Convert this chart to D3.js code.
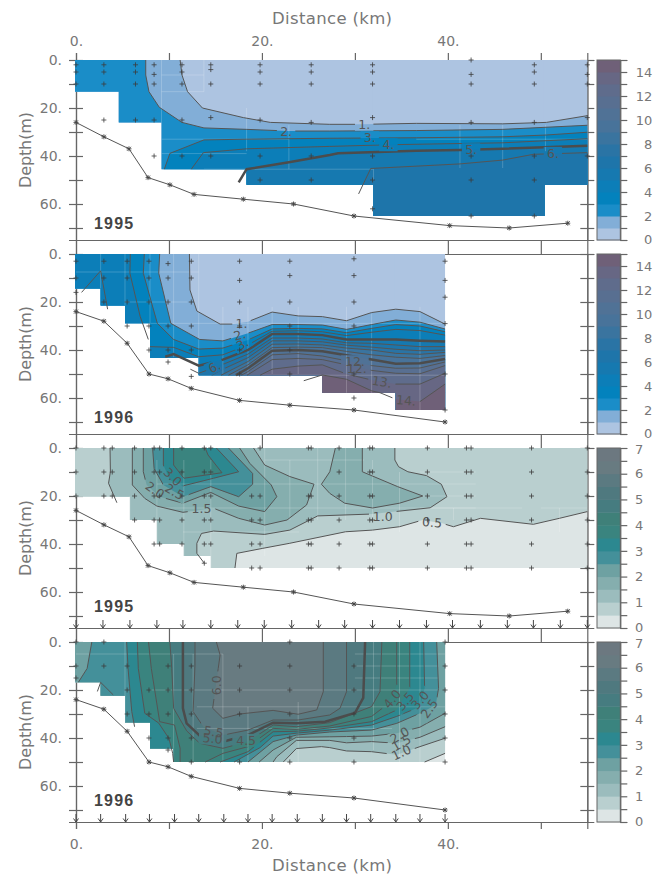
<!DOCTYPE html>
<html>
<head>
<meta charset="utf-8">
<script src="https://cdn.jsdelivr.net/npm/d3@7"></script>
<style>
  body { margin: 0; background: #fff; }
  text { font-family: "DejaVu Sans", sans-serif; fill: #777; }
</style>
</head>
<body>
<script>
// colour steps, lowest band first
const bluesRamp = ["#adc4e1","#82aed7","#1a8dc8","#0382bd","#0c7eb8","#1679b0","#1e75aa","#2a74a5","#3a749f","#48739a","#507296","#586f91","#5f6c8c","#676784","#6f6078"];
const tealsRamp = ["#dde5e5","#b9cfcf","#9bbcbd","#85aeae","#6ea1a2","#44909a","#2c8890","#3a847f","#3f8079","#467c80","#4f797f","#5b7a81","#687b81","#6c7880"];

// bottom profile, km / m
const bottomKm95 = [0,3,5.7,7.75,10.1,12.7,18,23.4,29.9,40.2,46.6,52.9];
const bottomM95 = [26,32,37,49,52,56,58,60,65,69,70,68];
const bottomKm96 = [0,3,5.5,7.85,9.9,12.4,17.6,23,29.9,39.7];
const bottomM96 = [24,28,37.2,50,52,56,61,63,65,70];

// sampled area, one step per column: right edge km, deepest m
const colKmA = [4.6,9.2,18.35,32,50.4,55];
const colMA = [13.2,26,45.5,52,65,52];
const colKmB = [2.65,5.27,7.96,13.2,26.5,34.4,39.7];
const colMB = [14.4,21.5,28.9,43.3,50.5,57.8,65];
const colKmC = [5.8,8.7,11.6,14.5,55];
const colMC = [20.3,30,40,45,50];
const colKmD = [2.65,5.27,7.96,10.5,39.7];
const colMD = [16.8,22.4,33.5,44.4,50];

// sample depths per station, km then depths
const castsA = [[0,[2,5,10]],[3,[2,5,10,25]],[6.4,[2,5,10,25]],[8.4,[2,6,10,25,40]],[11.4,[2,5,10,25,40]],[14.5,[2,4,10,24,40]],[19.8,[2,5,10,25,40,50]],[25.3,[2,5,10,26,40,50]],[31.9,[2,5,10,24,40,50,62]],[42.5,[0,6,10,26,40,50,65]],[49.3,[2,5,10,26,40,50,65]],[55,[2,6,10,24,40]]];
const castsB = [[0,[3,10,16]],[3,[3,10,20]],[5.5,[3,10,20,30]],[7.85,[3,10,20,30,40]],[9.9,[4,10,20,30,40,45]],[12.4,[3,10,20,30,40,51]],[17.6,[3,11,20,30,40,50]],[23,[3,9,20,30,40,50]],[29.9,[2,9,20,30,50,60]],[39.7,[3,11,18,29,50,65]]];
const castsC = [[0,[0,10,20]],[3,[0,10,20]],[3.9,[0,10,20]],[6.3,[0,10,20,30]],[8.4,[0,10,20,30,40]],[9,[0,10,20,30,40]],[11.4,[0,10,20,30,40]],[13.8,[0,10,20,30,40,48]],[14.5,[0,10,20,30,40]],[18.9,[20,30,40,50]],[19.8,[0,20,30,40,50]],[25,[0,20,30,40,50]],[25.3,[0,20,30,40,50]],[28.3,[0,10,20,30,40,50]],[31.6,[0,10,20,30,40,50]],[31.9,[0,10,20,30,40,50]],[37.8,[0,10,20,30,40,50]],[42,[0,10,20,30,40,50]],[42.5,[0,10,20,30,40,50]],[49,[0,10,20,30,40,50]],[55,[0,10,20,30,40,50]]];
const castsD = [[0,[0,10,15]],[3,[0,10]],[5.5,[10,20,30]],[7.85,[20,30,40]],[9.9,[10,20,30,40,45]],[12.4,[10,20,30,40,50]],[17.6,[10,20,30,50]],[23,[0,10,20,30,40,50]],[29.9,[10,20,30,40,50]],[39.7,[0,10,20,30,40,50]]];

// surface arrows along the lower axis
const arrowsKm95 = [0,2.9,5.8,8.7,11.5,14.5,17.4,20.25,23.2,26.1,28.9,31.9,34.8,37.7,40.5,43.5,46.4,49.2,52.1,55];
const arrowsKm96 = [0,2.65,5.34,7.9,10.6,13.2,15.9,18.5,21.1,23.8,26.5,29.1,31.7,34.4,37,39.7];

// contour lines, [km, m]. null lifts the pen. shut = extra corners for the fill only
const isoA = [
  {v:1, pts:[[11.2,0],[11.4,6.25],[12,13.2],[13.6,20],[18,24],[20.9,26],[27.3,26.8],[30.9,26.8],[36.6,26.4],[45.9,26.6],[50.6,26],[55,23.2]], shut:[[60,99],[-2,99],[-2,-2]]},
  {v:2, pts:[[7.5,0],[7.5,6.25],[7.85,13.2],[8.96,19.7],[11.4,26],[13.76,28.3],[18.35,28.9],[22.9,29.6],[27.3,29.6],[36.6,29.4],[45.9,28.9],[55,27.2]], shut:[[60,99],[-2,99],[-2,-2]]},
  {v:3, pts:[[9.5,45.5],[10.1,38.9],[13.76,33.3],[18.35,33],[27.3,32.6],[36.6,32.4],[45.9,32],[50.6,31.25],[55,30.1]], shut:[[60,99],[9.5,99]]},
  {v:4, pts:[[12.4,45.5],[13.7,38.6],[18.35,37],[27.3,36],[33.8,35.3],[45.9,34.5],[55,32.8]], shut:[[60,99],[12.4,99]]},
  {v:5, pts:[[17.5,51],[18.35,45.5],[22.9,42.6],[27.3,39.6],[28.2,38.9],[36.6,37.8],[41.3,37.5],[45.9,37],[55,35.7]], shut:[[60,99],[17.5,99]]},
  {v:6, pts:[[30.4,55.8],[31.7,45.2],[41.3,43.3],[45.9,41.7],[49.2,39.3],[55,38.6]], shut:[[60,99],[30.4,99]]}
];
const isoB = [
  {v:1, pts:[[12.2,0],[12.26,15],[13,23.75],[15.5,29.2],[16.9,29.2],[18.5,28.2],[21.1,24.2],[23.9,25.8],[26.5,26.1],[29.1,27.8],[31.8,24.4],[34.4,23],[37,24],[39.7,29.2]], shut:[[60,99],[-2,99],[-2,-2]]},
  {v:2, pts:[[9,0],[8.9,8],[10.2,28.9],[13.3,35.6],[15.8,36.2],[18.5,33],[21.1,29.4],[23.9,29.4],[26.5,29.6],[29.1,31.4],[31.8,29.4],[34.4,27.5],[37,28.4],[39.7,31.25]], shut:[[60,99],[-2,99],[-2,-2]]},
  {v:3, pts:[[7.35,0],[7.24,8],[8.75,28.9],[10.5,35.6],[13.2,39.6],[15.8,39.2],[18.5,35.8],[21.1,31.2],[23.9,31],[26.5,31.2],[29.1,32.8],[31.8,31],[34.4,29.4],[37,30],[39.7,32.4]], shut:[[60,99],[-2,99],[-2,-2]]},
  {v:4, pts:[[5.84,0],[5.8,8],[6.9,26],[7.78,35.6],null,[7.96,38.6],[10.5,38.9],[13.2,42.8],[15.8,42],[18.5,37.9],[21.1,32.2],[23.9,32],[26.5,32.4],[29.1,34],[31.8,32.6],[34.4,31.4],[37,31.9],[39.7,33.8]], shut:[[60,99],[-2,99],[-2,-2]]},
  {v:5, pts:[[9.6,42.8],[10.5,41.7],[13.2,46.5],[15.8,44],[18.5,40],[21.1,33.3],[23.9,33.3],[26.5,33.8],[29.1,35.6],[31.8,35.6],[34.4,35.6],[37,36.1],[39.7,36.5]], shut:[[60,99],[9.6,99]]},
  {v:6, pts:[[12.3,48],[13.2,49.7],[15.8,46],[18.5,41.7],[21.1,35],[23.9,35],[26.5,35.4],[29.1,37],[31.8,37.2],[34.4,37.9],[37,38.6],[39.7,38.6]], shut:[[60,99],[12.3,99]]},
  {v:7, pts:[[14.6,50.5],[15.8,48],[18.5,43.2],[21.1,36.2],[23.9,36.2],[26.5,36.6],[29.1,38],[31.8,38.8],[34.4,39.7],[37,40.3],[39.7,40]], shut:[[60,99],[14.6,99]]},
  {v:8, pts:[[15.6,50.5],[18.5,44.8],[21.1,37.6],[23.9,37.5],[26.5,37.9],[29.1,39.2],[31.8,40],[34.4,41.4],[37,41.8],[39.7,41]], shut:[[60,99],[15.6,99]]},
  {v:9, pts:[[16.4,50.5],[18.5,46.2],[21.1,39],[23.9,38.8],[26.5,39],[29.1,40.6],[31.8,42],[34.4,43],[37,43.5],[39.7,42.3]], shut:[[60,99],[16.4,99]]},
  {v:10, pts:[[17.2,50.5],[18.5,47.6],[21.1,40.3],[23.9,40],[26.5,40.5],[29.1,42.2],[31.8,44],[34.4,45.7],[37,45.5],[39.7,43.75]], shut:[[60,99],[17.2,99]]},
  {v:11, pts:[[17.8,50.5],[18.5,49],[21.1,42],[23.9,41.5],[26.5,42.5],[29.1,44.5],[31.8,46.5],[34.4,47.6],[37,47.5],[39.7,45]], shut:[[60,99],[17.8,99]]},
  {v:12, pts:[[18.4,50.5],[21.1,44],[23.9,43.5],[26.5,44],[29.1,46.2],[31.8,48.5],[34.4,49.7],[37,49.9],[39.7,46.5]], shut:[[60,99],[18.4,99]]},
  {v:13, pts:[[19.8,50.5],[21.1,48],[23.9,46.7],[26.5,46.2],[29.1,50],[31.8,52.5],[34.4,54.2],[37,54.2],[39.7,49.7]], shut:[[60,99],[19.8,99]]},
  {v:14, pts:[[24.5,52.8],[26.5,50.4],[29.1,52.2],[31.8,57],[32.7,57.8],[34.4,60.5],[37,61.5],[39.7,54.2]], shut:[[60,99],[24.5,99]]}
];
const isoC = [
  {v:0.5, pts:[[55,26.5],[52,29.3],[49.2,31.8],[43.5,29.3],[40.6,32.8],[39.4,31.4],[37.3,30],[34.8,32.8],[31.9,34.2],[29,34.9],[23,39.7],[20.1,41.8],[17.3,43.9],[17.1,50]], shut:[[17.1,99],[-2,99],[-2,-2],[60,-2],[60,26.5]]},
  {v:1, pts:[[3.66,0],[3.7,9.9],[3.5,14.7],[4.4,22.8],null,[4.4,48],null,[13.8,48],[13,43.9],[13,39.7],[13.5,35.6],[14.8,34.6],[20.3,36],[23,34.2],[26,28.3],[31.9,27.5],[38.1,24.9],[39.9,20.3],[39.3,15.1],[37.7,11.5],[35.7,9.9],[34.7,7.8],[34.3,5],[34.3,0]]},
  {v:1.5, pts:[[6.06,0],[6.06,15.4],[7.4,21],[8.7,24.2],[11.5,26.8],[14.8,25.1],[17.5,29.3],[20.3,32.1],[22.7,30],[24.8,23.75],[25.6,15.1],[23,11.9],[20.3,7.1],[19.1,0]]},
  {v:1.5, pts:[[27.9,0],[27.3,9.9],[26.4,15.1],[27.3,18.9],[28.9,23],[31.9,25],[34.8,23],[37.3,20],[34.6,16.1],[30.8,9.9],[30.8,0]]},
  {v:2, pts:[[7.24,0],[7.24,9.9],[7.6,15.4],[9,20.3],[11.5,23],[14.5,18.5],[17.5,24.2],[20.3,26.5],[21.6,20.3],[21,15.4],[18.7,6.4],[17.6,0]]},
  {v:2.5, pts:[[8.24,0],[8.4,8.5],[9.4,15.4],[11.5,20.3],[14.5,16.1],[17.5,20.3],[19,15.1],[19,10.6],[16.4,0]]},
  {v:3, pts:[[9.4,0],[9.4,7.1],[10.1,13.3],[11.5,15.8],[14.8,12.6],[17.5,9.9],[15.1,0]]},
  {v:3.5, pts:[[10.5,0],[10.5,7.1],[11.6,12.6],[15.7,10.3],[14.2,2.9],[13.9,0]]}
];
const isoD = [
  {v:0.5, pts:[[37.5,50],[39.7,46.4]], shut:[[60,46.4],[60,-2],[-2,-2],[-2,99],[37.5,99]]},
  {v:1, pts:[[22.3,50],[23.7,44.4],[26.4,43.6],[27.3,44],[29.1,45.4],[31.8,45.7],[34.5,47],[37,43.6],[39.7,40.1]], shut:[[60,40.1],[60,-2],[-2,-2],[-2,99],[22.3,99]]},
  {v:1.5, pts:[[21.2,50],[21.6,47.8],[23.7,41],[27.3,41],[29.1,42],[31.8,41.5],[34.5,42.2],[37,39.7],[39.7,35.3]], shut:[[60,35.3],[60,-2],[-2,-2],[-2,99],[21.2,99]]},
  {v:2, pts:[[19.7,50],[21.2,45],[23.7,39.7],[27.3,39.5],[29.1,39.4],[31.8,39.2],[34.5,38],[37,35.5],[39.7,29.7]], shut:[[60,29.7],[60,-2],[-2,-2],[-2,99],[19.7,99]]},
  {v:2.5, pts:[[1.7,0],[1.2,11],[0.25,16.8],null,[0.25,60],null,[18.5,50],[21.2,41.5],[23.7,38.8],[27.3,37.5],[31.8,36.7],[34.5,33.9],[37,29.7],[38.7,26.25],[39,19.3],[38.8,0]]},
  {v:3, pts:[[5.45,0],[5.6,11],[6,29],[6.3,35.3],null,[6.3,60],null,[17,60],null,[17,50],[19.8,44],[21.2,39.2],[23.7,38],[27.3,36.7],[31.8,34.6],[34.5,31],[37,27],[37.5,19.3],[37.4,0]]},
  {v:3.5, pts:[[6.6,0],[6.7,11],[7.4,29.7],[8.9,33.8],[10,40.2],[10.4,46.4],[10.5,50],null,[15.5,50],[18.5,45.7],[21.2,37.4],[23.7,37.2],[27.3,35.8],[31.8,33.2],[34.5,28.3],[35.9,19.3],[35.9,0]]},
  {v:4, pts:[[7.8,0],[8.1,11],[9,33.2],[10.6,34.6],[11.2,44.3],[11.2,50],null,[13.9,50],[15.8,46.4],[18.5,43.6],[21.2,36],[23.7,36.4],[27.3,35],[31.8,31],[33.4,26.25],[34.5,17.9],[34.5,0]]},
  {v:4.5, pts:[[10.1,0],[10.3,11],[10.5,27.6],[11.9,37],[13.3,42.2],[15.8,44.3],[18.5,41.5],[21.2,34.6],[23.7,35.3],[27.3,33.6],[31.8,26.9],[32.7,20.7],[32.9,0]]},
  {v:5, pts:[[11.5,0],[11.5,27.6],[11.9,33.9],[13.3,39],[15.8,41.5],[18.5,38.75],[21.2,33.6],[23.7,33.9],[26.8,33.2],[30,29.6],[30.9,23.3],[31.1,0]]},
  {v:5.5, pts:[[12.8,0],[12.8,9.6],[12.6,29],[13.7,35.3],[15.8,38.8],[18.5,36.7],[21.2,32.5],[23.9,32.5],[27.3,30.4],[28.4,27.6],[29.1,20.7],[29.1,0]]},
  {v:6, pts:[[15.1,0],[15.5,5.4],[15.3,11],[14.7,27.6],[15.8,31.8],[17.6,30],[21.2,28.5],[23.9,30.1],[25.9,28.3],[26.6,20.7],[26.6,0]]}
];

// loose bits of contour outside the sampled area
const strayB = [[[0.6,16],[2.65,7],[3.4,23]]];
const strayD = [[[2.3,20.6],[2.65,16.8],[4,22]]];

// contour labels: text, km, m, angle
const tagsA = [["1.",31,26.8,0],["2.",22.6,29.6,0],["3.",31.6,32.4,0],["4.",33.6,35.3,0],["5.",42.5,37.4,0],["6.",51.3,38.9,0]];
const tagsB = [["1.",17.8,29,0],["2.",17.6,33.7,-15],["3.",17.9,37.5,-30],["6.",14.9,47,-25],["12.",30,44.9,0],["12.",30.2,47.6,0],["13.",32.9,53.2,10],["14.",35.5,61,5]];
const tagsC = [["3.0",10.4,12,45],["2.5",10.6,18.2,30],["2.0",8.5,17.5,35],["1.5",13.5,25.4,0],["1.0",33,28.6,0],["0.5",38.3,31,5]];
const tagsD = [["6.0",15.1,18,-90],["5.5",14.8,37.4,10],["5.0",14.7,40.2,5],["4.5",18.3,41,0],["4.0",34,23.7,-50],["3.5",35.4,24.7,-50],["3.0",37,24.2,-50],["2.5",38,27.7,-55],["2.0",34.8,38.8,-30],["1.5",35,42,-30],["1.0",35,46,-25]];

// light seams left in the fill by the gridding: km0, m0, km1, m1
const seamsA = [[9.2,0,9.2,45.5],[13.76,0,13.76,13.2],[9.2,6.25,13.76,6.25],[9.2,13.2,13.76,13.2],[18.35,20,18.35,38],[22.9,27,22.9,45.5],[9.2,33,22.9,33],[9.2,39,18.35,39],[41.3,27,41.3,45],[45.9,27,45.9,45],[50.5,27,50.5,38],[36.6,33,55,33],[32,45.5,32,50],[13.76,45.5,32,45.5]];
const seamsB = [[2.65,0,2.65,14.4],[5.27,0,5.27,21.5],[7.96,0,7.96,28.9],[10.5,0,10.5,43],[13.2,0,13.2,50],[0,7.5,13.2,7.5],[5.27,20,12,20],[8,28.9,40,28.9],[15.8,22,15.8,50],[18.5,22,18.5,50],[21.1,22,21.1,50],[23.9,22,23.9,50],[29.1,22,29.1,58],[31.8,25,31.8,58],[37,22,37,65],[20,50.5,40,50.5]];
const seamsC = [[5.8,20,5.8,30],[8.7,5,8.7,40],[11.6,5,11.6,45],[14.5,5,14.5,50],[20.3,0,20.3,45],[23,5,23,30],[26,0,26,30],[29,0,29,30],[31.9,5,31.9,30],[34.8,10,34.8,35],[40.6,25,40.6,30],[52,25,52,35],[11.5,35,24,35],[20.3,5,31,5],[8.7,15,37,15],[9,25,43,25],[37,10,43,10],[37,15,43,15],[37,20,43,20],[37,25,48,25],[50,25,55,25]];
const seamsD = [[5.27,0,5.27,33.5],[10.5,5,10.5,50],[12.6,5,12.6,50],[15.8,5,15.8,50],[18.5,27,18.5,50],[23.9,25,23.9,50],[0,5,10.5,5],[10.5,5,15.8,5],[8,20,30,20],[13,27,40,27],[13,36,34,36],[32,0,32,45],[34.8,0,34.8,50],[37,0,37,50],[30,5,40,5],[30,10,39,10],[30,15,39,15],[30,20,39,20]];

const xTicks = [0,10,20,30,40,50];
const xLabels = [0,20,40];
const depthTicks = [0,10,20,30,40,50,60,70];
const depthLabels = [0,20,40,60];

const W = 660, H = 876;
const svg = d3.select("body").append("svg").attr("width", W).attr("height", H);
const x = d3.scaleLinear().domain([0, 55]).range([76, 587.3]);
const barL = 597, barR = 620.3;
const ink = "#666";

const line = (sx, sy) => d3.line().defined(d => d).x(d => sx(d[0])).y(d => sy(d[1]));

function styleAxis(g) {
    g.selectAll("path,line").attr("stroke", ink).attr("stroke-width", 1.2);
    g.selectAll("text").attr("font-size", 14).attr("fill", "#777");
}

function panel(o, idx) {
    const y = d3.scaleLinear().domain([0, 75]).range([o.top, o.top + 180]);
    const g = svg.append("g");
    const fmt = d => d + ".";

    // axes first, the fill sits on top of them
    const mk = (ax, dx, dy) => g.append("g").attr("transform", `translate(${dx},${dy})`).call(ax).call(styleAxis);
    mk(d3.axisLeft(y).tickValues(depthTicks).tickSize(7).tickPadding(7).tickFormat(d => depthLabels.includes(d) ? fmt(d) : ""), 76, 0);
    mk(d3.axisRight(y).tickValues(depthTicks).tickSize(7).tickFormat(""), 76, 0);
    mk(d3.axisLeft(y).tickValues(depthTicks).tickSize(7).tickFormat(""), 587.3, 0);
    mk(d3.axisRight(y).tickValues(depthTicks).tickSize(7).tickFormat(""), 587.3, 0);
    mk(d3.axisTop(x).tickValues(xTicks).tickSize(7).tickPadding(7).tickFormat(d => o.topLabels && xLabels.includes(d) ? fmt(d) : ""), 0, o.top);
    mk(d3.axisBottom(x).tickValues(xTicks).tickSize(7).tickPadding(10).tickFormat(d => o.botLabels && xLabels.includes(d) ? fmt(d) : ""), 0, o.top + 180);

    // sampled area
    const cols = o.colKm.map((k, i) => ({k0: i ? o.colKm[i - 1] : 0, k1: k, m: o.colM[i]}));
    const clipId = "area" + idx;
    const clip = svg.append("clipPath").attr("id", clipId);
    clip.selectAll("rect").data(cols).join("rect")
        .attr("x", d => x(d.k0) - (d.k0 ? 0 : 1)).attr("y", y(0))
        .attr("width", d => x(d.k1) - x(d.k0) + (d.k0 ? 0 : 1)).attr("height", d => y(d.m) - y(0));

    const fills = g.append("g").attr("clip-path", `url(#${clipId})`);
    fills.selectAll("rect").data(cols).join("rect")
        .attr("x", d => x(d.k0) - 1).attr("y", y(0))
        .attr("width", d => x(d.k1) - x(d.k0) + 2).attr("height", d => y(d.m) - y(0))
        .attr("fill", o.ramp[0]);
    const poly = line(x, y);
    const bandOf = v => Math.round(v / o.step);
    fills.selectAll("path").data(o.iso).join("path")
        .attr("d", d => poly(d.pts.filter(p => p).concat(d.shut || [])) + "Z")
        .attr("fill", d => o.ramp[bandOf(d.v)]);
    const seamG = g.append("g").attr("clip-path", `url(#${clipId})`);
    seamG.selectAll("line").data(o.seams).join("line")
        .attr("x1", d => x(d[0])).attr("y1", d => y(d[1]))
        .attr("x2", d => x(d[2])).attr("y2", d => y(d[3]))
        .attr("stroke", "#fff").attr("stroke-opacity", 0.2).attr("stroke-width", 1);

    // gaps in the lines under the labels
    const maskId = "gaps" + idx;
    const gaps = svg.append("mask").attr("id", maskId).attr("maskUnits", "userSpaceOnUse")
        .attr("x", 0).attr("y", 0).attr("width", W).attr("height", H);
    gaps.append("rect").attr("width", W).attr("height", H).attr("fill", "#fff");
    gaps.selectAll("rect.t").data(o.tags).join("rect").attr("class", "t")
        .attr("x", d => -d[0].length * 4.6).attr("y", -6.5)
        .attr("width", d => d[0].length * 9.2).attr("height", 13).attr("fill", "#000")
        .attr("transform", d => `translate(${x(d[1])},${y(d[2])}) rotate(${d[3]})`);

    const lines = g.append("g").attr("mask", `url(#${maskId})`).attr("fill", "none");
    lines.selectAll("path.iso").data(o.iso).join("path").attr("class", "iso")
        .attr("d", d => poly(d.pts))
        .attr("stroke", d => o.thick.includes(d.v) ? "#4c4c4c" : "#555")
        .attr("stroke-width", d => o.thick.includes(d.v) ? 2.5 : 1);
    lines.selectAll("path.stray").data(o.stray).join("path").attr("class", "stray")
        .attr("d", poly).attr("stroke", "#555").attr("stroke-width", 1);

    g.selectAll("text.tag").data(o.tags).join("text").attr("class", "tag")
        .attr("transform", d => `translate(${x(d[1])},${y(d[2])}) rotate(${d[3]})`)
        .attr("text-anchor", "middle").attr("dy", "0.36em").attr("font-size", 12.5)
        .style("fill", "#555").text(d => d[0]);

    // sample crosses
    const crosses = o.casts.flatMap(c => c[1].map(m => [c[0], m]));
    g.append("path")
        .attr("d", crosses.map(d => `M${x(d[0]) - 2.5},${y(d[1])}h5M${x(d[0])},${y(d[1]) - 2.5}v5`).join(""))
        .attr("stroke", "#3c3c3c").attr("stroke-width", 0.8).attr("fill", "none");

    // bottom profile
    const prof = o.botKm.map((k, i) => [k, o.botM[i]]);
    g.append("path").attr("d", poly(prof)).attr("fill", "none").attr("stroke", "#555").attr("stroke-width", 1);
    g.append("path")
        .attr("d", prof.map(d => `M${x(d[0]) - 2},${y(d[1]) - 2}l4,4m0,-4l-4,4M${x(d[0]) - 2.5},${y(d[1])}h5M${x(d[0])},${y(d[1]) - 2.5}v5`).join(""))
        .attr("stroke", "#444").attr("stroke-width", 0.9).attr("fill", "none");

    // surface arrows
    if (o.arrows) {
        g.append("path")
            .attr("d", o.arrows.map(k => `M${x(k)},${y(75) - 8}v8M${x(k) - 2.5},${y(75) - 3.5}L${x(k)},${y(75)}L${x(k) + 2.5},${y(75) - 3.5}`).join(""))
            .attr("stroke", "#444").attr("stroke-width", 1).attr("fill", "none");
    }

    g.append("text").attr("x", 94).attr("y", y(o.yearM)).attr("dy", "0.36em")
        .attr("font-size", 16).attr("font-weight", "bold").attr("letter-spacing", 1.2)
        .style("font-family", "'Liberation Sans', sans-serif").style("fill", "#444").text(o.year);

    g.append("text").attr("transform", `translate(25,${o.top + 90}) rotate(-90)`)
        .attr("text-anchor", "middle").attr("dy", "0.36em").attr("font-size", 16)
        .attr("textLength", 76).attr("lengthAdjust", "spacing").text("Depth(m)");

    // colour bar
    const bar = d3.scaleLinear().domain([0, o.max]).range([o.top + 180, o.top]);
    const steps = d3.range(o.ramp.length);
    g.selectAll("rect.step").data(steps).join("rect").attr("class", "step")
        .attr("x", barL).attr("width", barR - barL)
        .attr("y", d => bar((d + 1) * o.step)).attr("height", d => bar(d * o.step) - bar((d + 1) * o.step) + 0.5)
        .attr("fill", d => o.ramp[d]);
    g.append("rect").attr("x", barL).attr("y", o.top).attr("width", barR - barL).attr("height", 180)
        .attr("fill", "none").attr("stroke", "#666").attr("stroke-width", 1);
    g.append("g").attr("transform", `translate(${barR},0)`)
        .call(d3.axisRight(bar).tickValues(d3.range(0, o.max + o.step / 2, o.step)).tickSize(7).tickPadding(o.barPad)
            .tickFormat(d => o.barLabels.includes(d) ? d : ""))
        .call(styleAxis)
        .selectAll("text").attr("text-anchor", "end").attr("dx", o.barDx)
        // the 0 of one bar and the top label of the next sit close together
        .attr("font-size", 13)
        .attr("transform", d => `translate(0,${d === 0 ? -1 : d === o.max ? 1 : 0})`);
}

panel({top: 60, colKm: colKmA, colM: colMA, iso: isoA, ramp: bluesRamp, step: 1, max: 15, thick: [5], stray: [], tags: tagsA, casts: castsA,
    botKm: bottomKm95, botM: bottomM95, seams: seamsA, year: "1995", yearM: 68, topLabels: true,
    barLabels: [0,2,4,6,8,10,12,14], barPad: 3, barDx: 22}, 0);
panel({top: 254, colKm: colKmB, colM: colMB, iso: isoB, ramp: bluesRamp, step: 1, max: 15, thick: [5,10], stray: strayB, tags: tagsB, casts: castsB,
    botKm: bottomKm96, botM: bottomM96, seams: seamsB, year: "1996", yearM: 68,
    barLabels: [0,2,4,6,8,10,12,14], barPad: 3, barDx: 22}, 1);
panel({top: 448, colKm: colKmC, colM: colMC, iso: isoC, ramp: tealsRamp, step: 0.5, max: 7, thick: [], stray: [], tags: tagsC, casts: castsC,
    botKm: bottomKm95, botM: bottomM95, seams: seamsC, year: "1995", yearM: 66, arrows: arrowsKm95,
    barLabels: [0,1,2,3,4,5,6,7], barPad: 3, barDx: 13}, 2);
panel({top: 642, colKm: colKmD, colM: colMD, iso: isoD, ramp: tealsRamp, step: 0.5, max: 7, thick: [5], stray: strayD, tags: tagsD, casts: castsD,
    botKm: bottomKm96, botM: bottomM96, seams: seamsD, year: "1996", yearM: 66, arrows: arrowsKm96, botLabels: true,
    barLabels: [0,1,2,3,4,5,6,7], barPad: 3, barDx: 13}, 3);

svg.append("text").attr("x", 332).attr("y", 18).attr("dy", "0.36em").attr("text-anchor", "middle")
    .attr("font-size", 16.5).attr("textLength", 120).attr("lengthAdjust", "spacing").text("Distance (km)");
svg.append("text").attr("x", 332).attr("y", 865).attr("dy", "0.36em").attr("text-anchor", "middle")
    .attr("font-size", 16.5).attr("textLength", 120).attr("lengthAdjust", "spacing").text("Distance (km)");
</script>
</body>
</html>
